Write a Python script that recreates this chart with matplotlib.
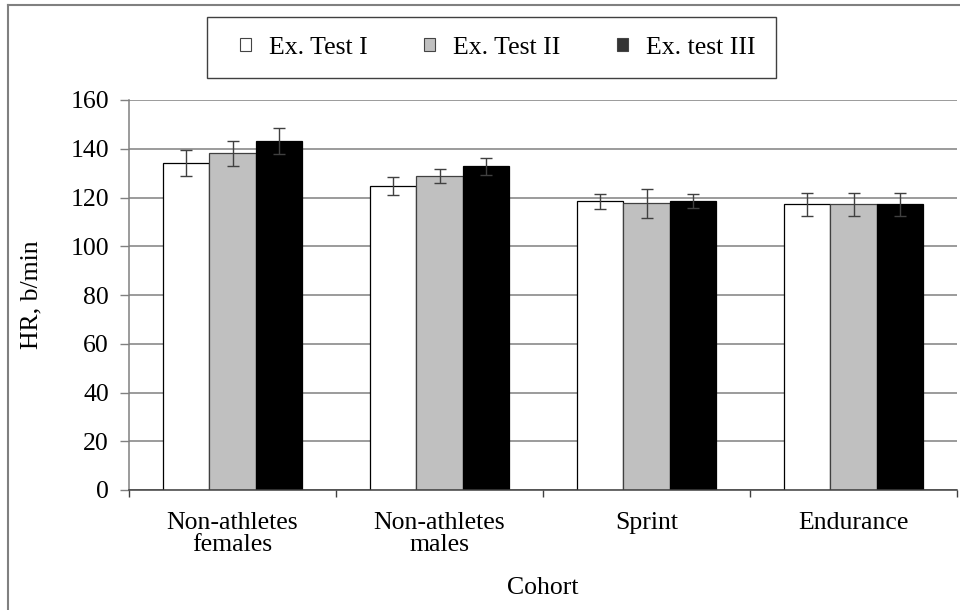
import numpy as np
import matplotlib.pyplot as plt
from matplotlib.patches import Rectangle
from matplotlib.lines import Line2D

plt.rcParams['font.family'] = ['Liberation Serif', 'DejaVu Serif']

cohorts = ['Non-athletes\nfemales', 'Non-athletes\nmales', 'Sprint', 'Endurance']
series = ['Ex. Test I', 'Ex. Test II', 'Ex. test III']
test1 = [134.2, 124.8, 118.4, 117.2]
test2 = [138.1, 128.8, 117.6, 117.2]
test3 = [143.3, 132.9, 118.6, 117.2]
err1 = [5.3, 3.6, 3.2, 4.8]
err2 = [5.0, 3.0, 5.9, 4.8]
err3 = [5.3, 3.5, 3.0, 4.8]
colors = ['white', '#c0c0c0', 'black']
edges = ['black', '#404040', 'black']
legend_colors = ['white', '#c0c0c0', '#333333']

W, H = 960, 610
fs = 18.5

fig = plt.figure(figsize=(W / 100, H / 100), dpi=100)
ax = fig.add_axes([129 / W, 1 - 490 / H, 828 / W, 390 / H])

x = np.arange(len(cohorts))
w = 0.224
handles = []
for i, (vals, errs) in enumerate(zip([test1, test2, test3], [err1, err2, err3])):
    ax.bar(x + (i - 1) * w, vals, w, color=colors[i], edgecolor=edges[i],
           linewidth=0.9, zorder=2)
    ax.errorbar(x + (i - 1) * w, vals, yerr=errs, fmt='none', ecolor='#404040',
                elinewidth=1.0, capsize=4.3, capthick=1.0, zorder=3)
    handles.append(Rectangle((0, 0), 1, 1, facecolor=legend_colors[i],
                             edgecolor='#444444', linewidth=0.8))

ax.set_xlim(-0.5, len(cohorts) - 0.5)
ax.set_ylim(0, 160)
ax.set_yticks(np.arange(0, 161, 20))
ax.yaxis.grid(True, color='#808080', linewidth=1.1)
ax.set_axisbelow(True)

ax.set_xticks(x)
ax.set_xticklabels(cohorts, fontsize=fs, linespacing=1.0)
ax.tick_params(axis='x', length=0, pad=16)
ax.set_xticks(np.arange(-0.5, len(cohorts), 1), minor=True)
ax.tick_params(axis='x', which='minor', length=5, width=1.0,
               color='#404040', direction='out')
ax.tick_params(axis='y', labelsize=fs, length=6.5, width=1.0, pad=8,
               color='#808080', direction='out')

for s in ['top', 'right']:
    ax.spines[s].set_visible(False)
ax.spines['left'].set_color('#808080')
ax.spines['left'].set_linewidth(1.1)
ax.spines['bottom'].set_color('#404040')
ax.spines['bottom'].set_linewidth(1.1)

ax.set_xlabel('Cohort', fontsize=fs)
ax.xaxis.set_label_coords(0.5, -0.222)
ax.set_ylabel('HR, b/min', fontsize=fs)
ax.yaxis.set_label_coords(-0.105, 0.5)

leg = fig.legend(handles, series, loc='center', ncol=3,
                 bbox_to_anchor=(498 / W, 1 - 47.5 / H), fontsize=fs,
                 frameon=False, handlelength=0.42, handleheight=0.42,
                 handletextpad=0.7, columnspacing=2.2, borderpad=0.75,
                 borderaxespad=0)

# legend frame drawn by hand (wider padding on the left like the original)
fig.add_artist(Rectangle((207 / W, 1 - 78 / H), (776 - 207) / W, 61 / H,
                         transform=fig.transFigure, fill=False,
                         edgecolor='#404040', linewidth=1.0))

# outer chart border (only left and top fall inside the image)
fig.add_artist(Line2D([8 / W, 8 / W], [0, 1 - 5 / H], color='#808080',
                      linewidth=1.5, transform=fig.transFigure))
fig.add_artist(Line2D([8 / W, 1], [1 - 5 / H, 1 - 5 / H], color='#808080',
                      linewidth=1.5, transform=fig.transFigure))

fig.savefig('out.png', dpi=100)
